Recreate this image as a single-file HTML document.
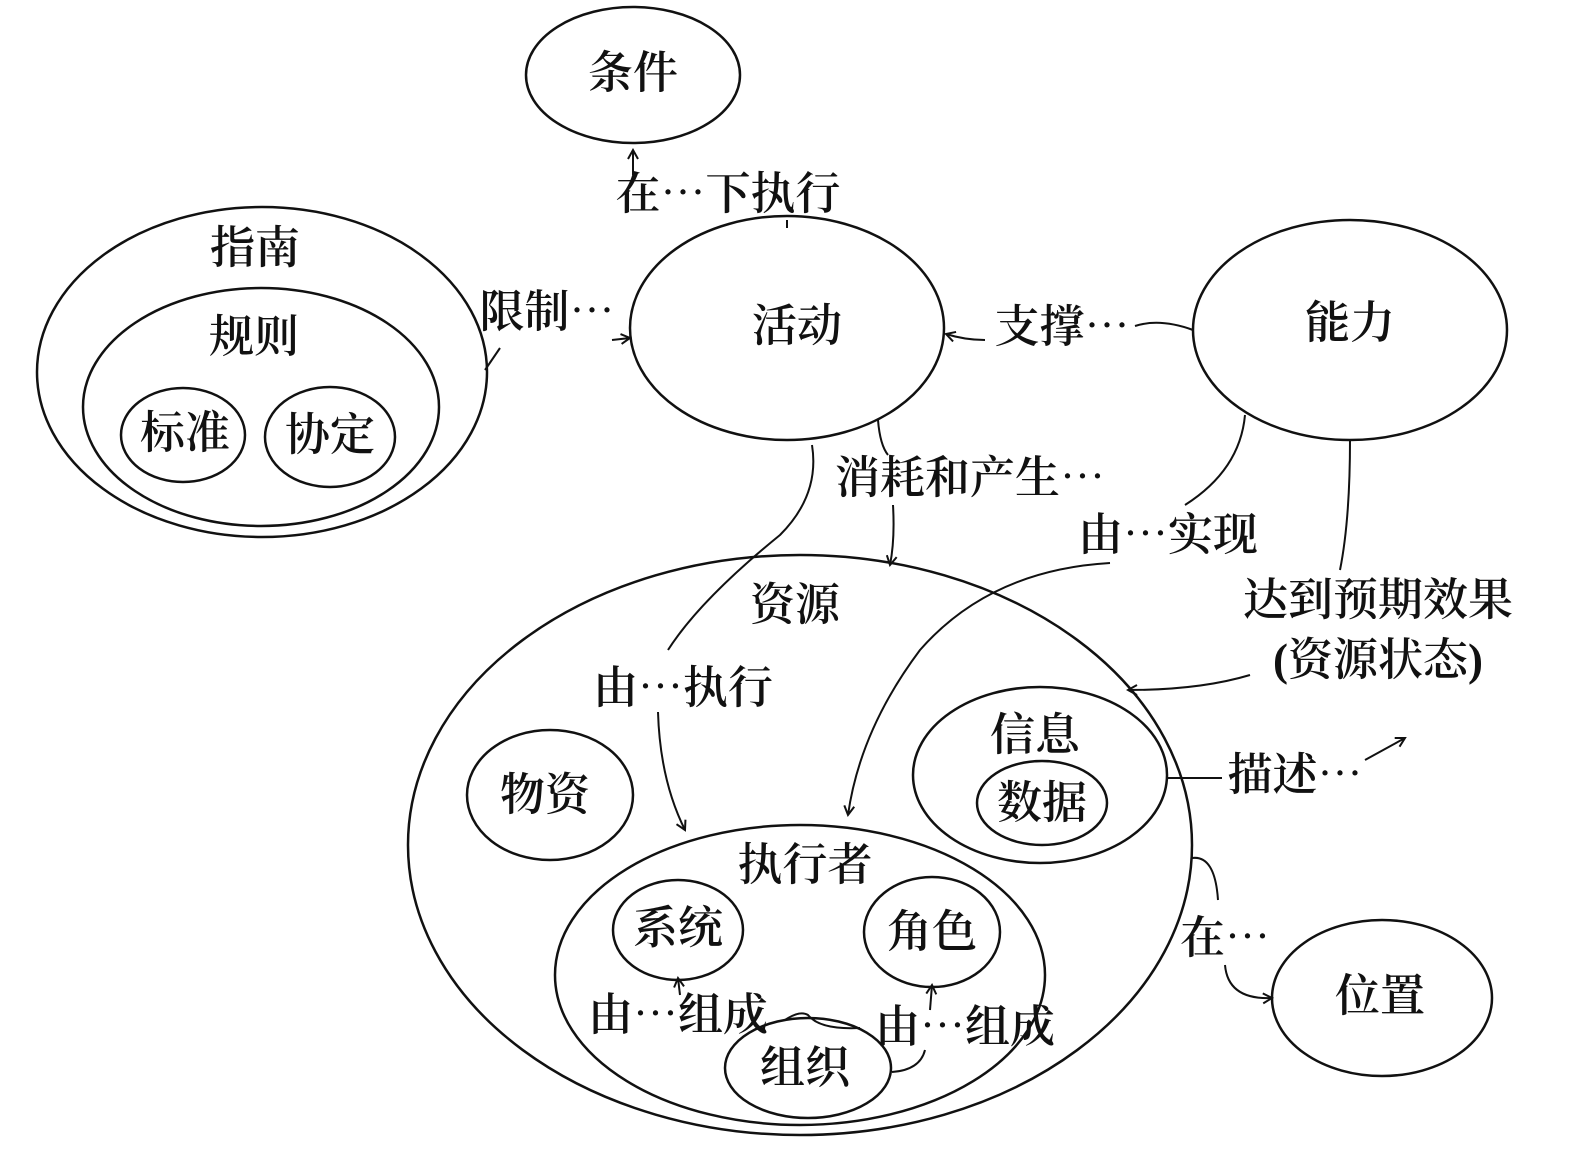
<!DOCTYPE html>
<html><head><meta charset="utf-8"><style>
html,body{margin:0;padding:0;background:#fff}
svg{display:block}
text{font-family:"Liberation Serif","Noto Serif CJK SC",serif;font-size:45px;font-weight:600;fill:#111;text-anchor:middle;dominant-baseline:central}
</style></head><body>
<svg width="1575" height="1162" viewBox="0 0 1575 1162" xmlns="http://www.w3.org/2000/svg">
<defs><marker id="a" viewBox="0 0 12 12" refX="10" refY="6" markerWidth="12" markerHeight="12" markerUnits="userSpaceOnUse" orient="auto"><path d="M1,1 L10,6 L1,11" fill="none" stroke="#111" stroke-width="2"/></marker></defs>
<g fill="none" stroke="#111" stroke-width="2.5">
<ellipse cx="633" cy="75" rx="107" ry="68"/>
<ellipse cx="262" cy="372" rx="225" ry="165"/>
<ellipse cx="261" cy="407" rx="178" ry="119"/>
<ellipse cx="183" cy="435" rx="62" ry="47"/>
<ellipse cx="330" cy="437" rx="65" ry="50"/>
<ellipse cx="787" cy="328" rx="157" ry="112"/>
<ellipse cx="1350" cy="330" rx="157" ry="110"/>
<ellipse cx="800" cy="845" rx="392" ry="290"/>
<ellipse cx="550" cy="795" rx="83" ry="65"/>
<ellipse cx="1040" cy="775" rx="127" ry="88"/>
<ellipse cx="1042" cy="803" rx="65" ry="42"/>
<ellipse cx="800" cy="975" rx="245" ry="150"/>
<ellipse cx="678" cy="930" rx="65" ry="50"/>
<ellipse cx="932" cy="932" rx="68" ry="55"/>
<ellipse cx="808" cy="1068" rx="83" ry="50"/>
<ellipse cx="1382" cy="998" rx="110" ry="78"/>
</g>
<g fill="none" stroke="#111" stroke-width="2">
<path d="M633 175 L633 150" marker-end="url(#a)"/>
<path d="M787 228 L787 220"/>
<path d="M485 370 L500 348"/>
<path d="M612 340 L630 338" marker-end="url(#a)"/>
<path d="M1193 330 Q1160 318 1135 326"/>
<path d="M985 340 Q965 340 946 334" marker-end="url(#a)"/>
<path d="M878 420 Q880 445 888 455"/>
<path d="M893 505 Q895 540 890 565" marker-end="url(#a)"/>
<path d="M812 445 Q820 495 780 535 Q700 600 668 650"/>
<path d="M658 712 Q660 780 685 830" marker-end="url(#a)"/>
<path d="M1245 415 Q1240 470 1185 505"/>
<path d="M1110 563 Q990 570 920 650 Q860 730 848 815" marker-end="url(#a)"/>
<path d="M1350 440 Q1350 520 1340 570"/>
<path d="M1250 675 Q1200 690 1128 690" marker-end="url(#a)"/>
<path d="M1167 778 L1222 778"/>
<path d="M1365 760 L1405 738" marker-end="url(#a)"/>
<path d="M1192 858 Q1215 855 1218 900"/>
<path d="M1225 965 Q1228 1000 1272 998" marker-end="url(#a)"/>
<path d="M785 1020 Q800 1010 808 1015 Q820 1030 860 1028"/>
<path d="M892 1072 Q920 1070 925 1050"/>
<path d="M930 1010 L932 985" marker-end="url(#a)"/>
<path d="M680 995 L678 978" marker-end="url(#a)"/>
</g>
<text x="633" y="73">条件</text>
<text x="728" y="194">在⋯下执行</text>
<text x="255" y="248">指南</text>
<text x="254" y="337">规则</text>
<text x="185" y="433">标准</text>
<text x="330" y="435">协定</text>
<text x="547" y="312">限制⋯</text>
<text x="797" y="326">活动</text>
<text x="1062" y="327">支撑⋯</text>
<text x="1350" y="323">能力</text>
<text x="970" y="478">消耗和产生⋯</text>
<text x="1168" y="535">由⋯实现</text>
<text x="1378" y="600">达到预期效果</text>
<text x="1378" y="660">(资源状态)</text>
<text x="795" y="605">资源</text>
<text x="683" y="688">由⋯执行</text>
<text x="1035" y="735">信息</text>
<text x="1042" y="803">数据</text>
<text x="1295" y="775">描述⋯</text>
<text x="545" y="795">物资</text>
<text x="805" y="865">执行者</text>
<text x="678" y="928">系统</text>
<text x="932" y="932">角色</text>
<text x="1225" y="938">在⋯</text>
<text x="1380" y="996">位置</text>
<text x="678" y="1015">由⋯组成</text>
<text x="965" y="1027">由⋯组成</text>
<text x="805" y="1068">组织</text>
</svg>
</body></html>
